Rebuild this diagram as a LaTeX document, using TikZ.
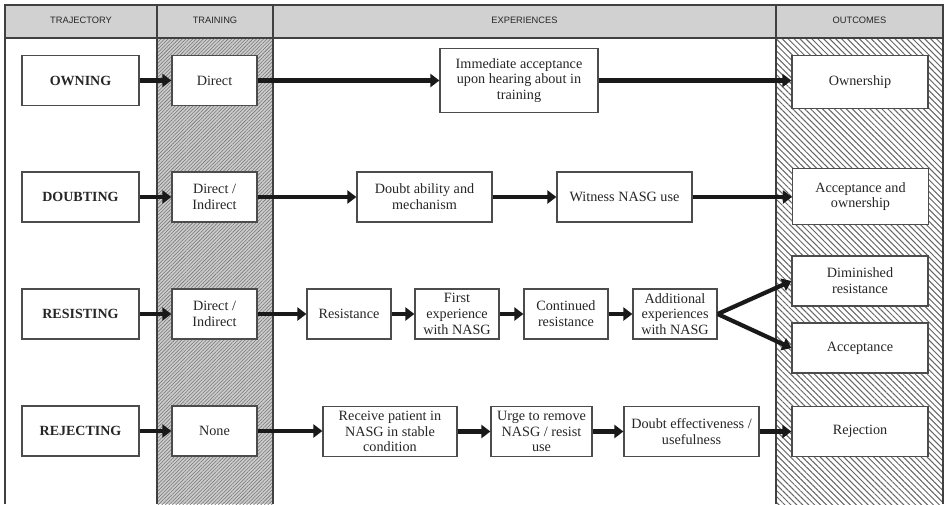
\documentclass[tikz,border=0pt]{standalone}
\usepackage{fontspec}
\setmainfont{Liberation Serif}
\newfontfamily\hdrfont{Liberation Sans}
\usetikzlibrary{arrows.meta,patterns.meta}
\begin{document}
\begin{tikzpicture}[x=1pt,y=-1pt,
  framecol/.style={draw=black!75,line width=1.2pt},
  hdr/.style={font=\hdrfont\fontsize{9.3}{11}\selectfont,text=black!85,anchor=center},
  box/.style={draw=black!70,line width=1.2pt,fill=white,align=center,inner sep=1pt,
    font=\fontsize{14.2}{15.8}\selectfont,text=black!85,minimum height=50pt},
  traj/.style={box,font=\bfseries\fontsize{14}{16}\selectfont,minimum width=117pt},
  trn/.style={box,minimum width=85pt},
  outc/.style={box,minimum width=136pt},
  arr/.style={line width=4.2pt,black!90,-{Triangle[length=9pt,width=13pt]}}
]
\useasboundingbox (0,0) rectangle (949,504);
% columns background
\fill[white] (0,0) rectangle (949,504);
\fill[black!20] (157,38) rectangle (273,504);
\pattern[pattern={Lines[angle=45,distance=2.5pt,line width=0.55pt]},pattern color=black!55] (157,38) rectangle (273,504);
\pattern[pattern={Lines[angle=-45,distance=4.2pt,line width=1pt]},pattern color=black!60] (776,38) rectangle (943,504);
% header
\fill[black!18] (5,5) rectangle (943,38);
\draw[framecol] (5,504) -- (5,5) -- (943,5) -- (943,504);
\draw[framecol] (5,38) -- (943,38);
\draw[framecol] (157,5) -- (157,504);
\draw[framecol] (273,5) -- (273,504);
\draw[framecol] (776,5) -- (776,504);
\node[hdr] (hTraj) at (81,20) {TRAJECTORY};
\node[hdr] (hTrain) at (215,20) {TRAINING};
\node[hdr] (hExp) at (524.5,20) {EXPERIENCES};
\node[hdr] (hOut) at (859.5,20) {OUTCOMES};

% Row 1
\node[traj] (own) at (80.5,80.5) {OWNING};
\node[trn] (dir1) at (214.5,80.5) {Direct};
\node[box,minimum width=158pt,minimum height=64pt] (imm) at (519,80.5) {Immediate acceptance\\upon hearing about in\\training};
\node[outc,minimum height=53pt] (ownr) at (860,82) {Ownership};
\draw[arr] (own.east) -- (dir1.west);
\draw[arr] (dir1.east) -- (imm.west);
\draw[arr] (imm.east) -- (ownr.west |- imm.east);

% Row 2
\node[traj] (dbt) at (80.5,197) {DOUBTING};
\node[trn] (dir2) at (214.5,197) {Direct /\\Indirect};
\node[box,minimum width=135pt] (abil) at (424.5,197) {Doubt ability and\\mechanism};
\node[box,minimum width=135pt] (wit) at (624.5,197) {Witness NASG use};
\node[outc,minimum height=56pt] (accown) at (860.5,196.5) {Acceptance and\\ownership};
\draw[arr] (dbt.east) -- (dir2.west);
\draw[arr] (dir2.east) -- (abil.west);
\draw[arr] (abil.east) -- (wit.west);
\draw[arr] (wit.east) -- (accown.west |- wit.east);

% Row 3
\node[traj] (res) at (80.5,314) {RESISTING};
\node[trn] (dir3) at (214.5,314) {Direct /\\Indirect};
\node[box,minimum width=84pt] (rst) at (349,314) {Resistance};
\node[box,minimum width=84pt] (first) at (457,314) {First\\experience\\with NASG};
\node[box,minimum width=84pt] (cont) at (566,314) {Continued\\resistance};
\node[box,minimum width=84pt] (addl) at (675,314) {Additional\\experiences\\with NASG};
\node[outc] (dim) at (860,281) {Diminished\\resistance};
\node[outc] (acc) at (860,348) {Acceptance};
\draw[arr] (res.east) -- (dir3.west);
\draw[arr] (dir3.east) -- (rst.west);
\draw[arr] (rst.east) -- (first.west);
\draw[arr] (first.east) -- (cont.west);
\draw[arr] (cont.east) -- (addl.west);
\draw[arr] (addl.east) -- (dim.west);
\draw[arr] (addl.east) -- (acc.west);

% Row 4
\node[traj] (rej) at (80.5,431) {REJECTING};
\node[trn] (none) at (214.5,431) {None};
\node[box,minimum width=134pt] (recv) at (390,431.5) {Receive patient in\\NASG in stable\\condition};
\node[box,minimum width=101pt] (urge) at (541.5,431.5) {Urge to remove\\NASG / resist\\use};
\node[box,minimum width=135pt] (deff) at (691.5,431.5) {Doubt effectiveness /\\usefulness};
\node[outc] (rjn) at (860,431.5) {Rejection};
\draw[arr] (rej.east) -- (none.west);
\draw[arr] (none.east) -- (recv.west |- none.east);
\draw[arr] (recv.east) -- (urge.west);
\draw[arr] (urge.east) -- (deff.west);
\draw[arr] (deff.east) -- (rjn.west);
\end{tikzpicture}
\end{document}
